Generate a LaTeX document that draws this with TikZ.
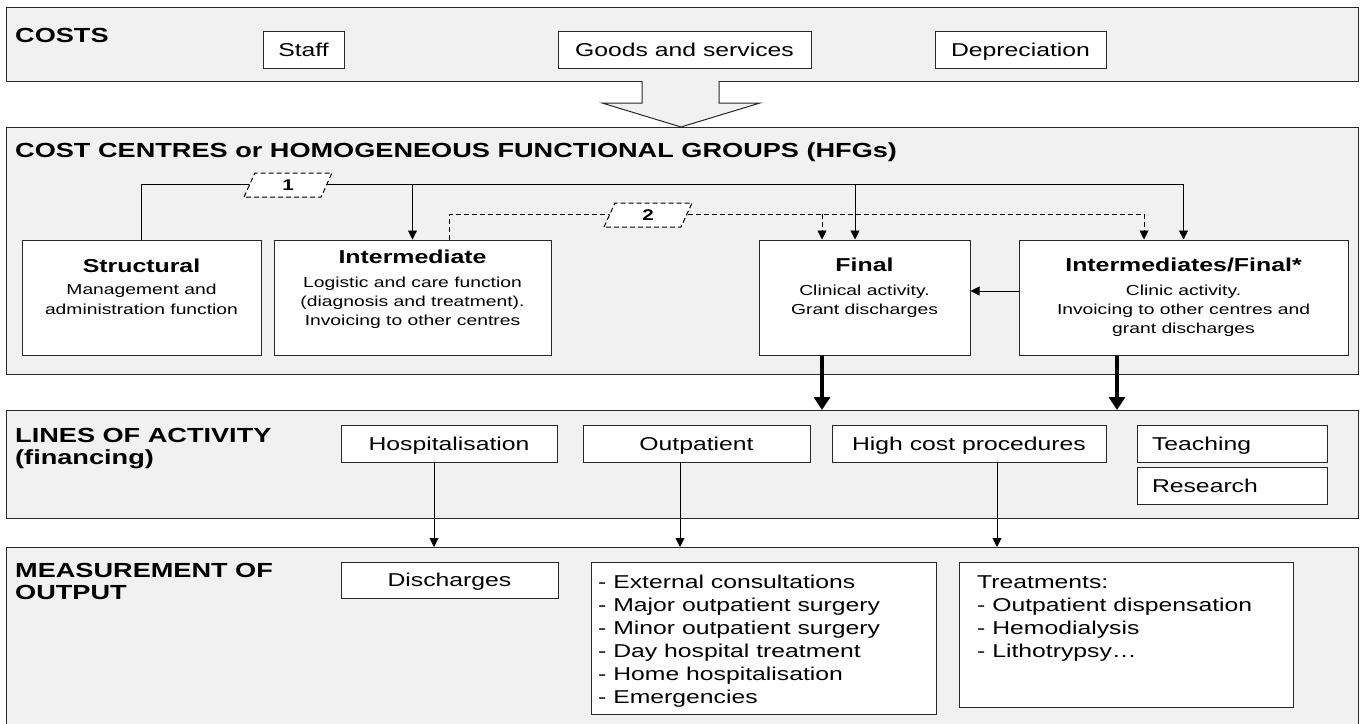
\documentclass[tikz,border=0pt]{standalone}
\usepackage{fontspec}
\setmainfont{Liberation Sans}[FakeStretch=1.33]
\usetikzlibrary{arrows.meta,shapes.geometric}
\definecolor{bandfill}{RGB}{241,241,241}
\definecolor{edgecol}{RGB}{40,40,40}
\newcommand{\fntBody}{\fontsize{14.5}{19}\selectfont}
\newcommand{\fntMid}{\fontsize{18.6}{23}\selectfont}
\newcommand{\fntHead}{\fontsize{20.4}{22}\selectfont\bfseries}
\newcommand{\fntBoxTitle}{\fontsize{18.7}{22}\selectfont\bfseries}
\begin{document}
\begin{tikzpicture}[x=1pt,y=-1pt,
  band/.style={draw=edgecol, line width=1pt, fill=bandfill, inner sep=0pt, anchor=north west, minimum width=1352pt},
  box/.style={draw=edgecol, line width=1pt, fill=white, inner sep=0pt},
  midtext/.style={font=\fntMid, text height=13.4pt, text depth=0pt},
  boxtxt/.style={font=\fntBody, align=center, inner sep=0pt, anchor=north},
  head/.style={font=\fntHead, inner sep=0pt, align=left},
  ln/.style={draw=black, line width=0.9pt},
  arr/.style={ln, -{Triangle[length=9pt,width=9pt]}},
  dsh/.style={dash pattern=on 5pt off 3pt},
  bigarr/.style={draw=black, line width=4.5pt, -{Triangle[length=13pt,width=16pt]}},
  tag/.style={trapezium, trapezium left angle=80, trapezium right angle=100, trapezium stretches=true,
    draw=black, dash pattern=on 5pt off 3pt, line width=1pt, fill=white,
    minimum width=88pt, minimum height=24pt, inner sep=0pt, font=\fontsize{15.5}{16}\selectfont\bfseries}
]
\useasboundingbox (0,0) rectangle (1365,723);
\clip (0,0) rectangle (1365,723);

% bands
\node[band, minimum height=74pt] (b1) at (6,7) {};
\node[band, minimum height=247pt] (b2) at (6,127) {};
\node[band, minimum height=108pt] (b3) at (6,410) {};
\node[band, minimum height=200pt] (b4) at (6,547) {};

% band headings
\node[head, anchor=base west] (h1) at (15,42.3) {COSTS};
\node[head, anchor=base west] (h2) at (15,157.3) {COST CENTRES or HOMOGENEOUS FUNCTIONAL GROUPS (HFGs)};
\node[head, anchor=north west] (h3) at (15,427.7) {LINES OF ACTIVITY\\(financing)};
\node[head, anchor=north west] (h4) at (15,562.7) {MEASUREMENT OF\\OUTPUT};

% costs
\node[box, midtext, minimum width=81pt, minimum height=37pt] (staff) at (303.5,49.5) {Staff};
\node[box, midtext, minimum width=253pt, minimum height=37pt] (goods) at (684.5,49.5) {Goods and services};
\node[box, midtext, minimum width=171pt, minimum height=37pt] (depr) at (1020.5,49.5) {Depreciation};

% block arrow
\fill[bandfill] (642,80.5) -- (642,103) -- (602,103) -- (681,127) -- (760,103) -- (719,103) -- (719,80.5) -- cycle;
\draw[edgecol, line width=1pt, line join=miter] (642,81) -- (642,103) -- (602,103) -- (681,127) -- (760,103) -- (719,103) -- (719,81);

% cost centres
\node[box, minimum width=239pt, minimum height=115pt] (struct) at (141.5,297.5) {};
\node[box, minimum width=277pt, minimum height=115pt] (inter) at (412.5,297.5) {};
\node[box, minimum width=211pt, minimum height=115pt] (final) at (864.5,297.5) {};
\node[box, minimum width=329pt, minimum height=115pt] (intfin) at (1183.5,297.5) {};

\node[boxtxt] (struct-t) at (141.5,259) {{\fntBoxTitle Structural}\\[3pt]Management and\\[1pt]administration function};
\node[boxtxt] (inter-t) at (412.5,250) {{\fntBoxTitle Intermediate}\\[5pt]Logistic and care function\\(diagnosis and treatment).\\Invoicing to other centres};
\node[boxtxt] (final-t) at (864.5,258) {{\fntBoxTitle Final}\\[5pt]Clinical activity.\\Grant discharges};
\node[boxtxt] (intfin-t) at (1183.5,258) {{\fntBoxTitle Intermediates/Final*}\\[5pt]Clinic activity.\\Invoicing to other centres and\\grant discharges};

% connector coordinates
\coordinate (l1y) at (0,184);
\coordinate (l2y) at (0,214);
\coordinate (xf1) at (855,0);
\coordinate (xf2) at (822,0);
\coordinate (xi2) at (449,0);
\coordinate (xif2) at (1144,0);
\coordinate (xif3) at (1117,0);

% line 1
\draw[arr] (struct.north) |- (intfin.north |- l1y) -- (intfin.north);
\draw[arr] (inter.north |- l1y) -- (inter.north);
\draw[arr] (xf1 |- l1y) -- (xf1 |- final.north);
% line 2 (dashed)
\draw[arr, dsh] (xi2 |- inter.north) |- (xif2 |- l2y) -- (xif2 |- intfin.north);
\draw[arr, dsh] (xf2 |- l2y) -- (xf2 |- final.north);
% tags
\node[tag] (tag1) at (288,185) {1};
\node[tag] (tag2) at (648,215) {2};
% intermediates/final -> final
\draw[arr] ([yshift=6.5pt]intfin.west) -- ([yshift=6.5pt]final.east);

% thick arrows
\draw[bigarr] (xf2 |- final.south) -- (xf2 |- b3.north);
\draw[bigarr] (xif3 |- intfin.south) -- (xif3 |- b3.north);

% lines of activity
\node[box, midtext, minimum width=216pt, minimum height=37pt] (hosp) at (449,443.5) {Hospitalisation};
\node[box, midtext, minimum width=227pt, minimum height=37pt] (outp) at (696.5,443.5) {Outpatient};
\node[box, midtext, minimum width=274pt, minimum height=37pt] (high) at (969,443.5) {High cost procedures};
\node[box, midtext, minimum height=37pt, text width=160pt, inner xsep=15pt, align=left] (teach) at (1232,443.5) {Teaching};
\node[box, midtext, minimum height=37pt, text width=160pt, inner xsep=15pt, align=left] (research) at (1232,485.5) {Research};

\coordinate (xh) at (434,0);
\coordinate (xo) at (680,0);
\coordinate (xc) at (997,0);
\draw[arr] (xh |- hosp.south) -- (xh |- b4.north);
\draw[arr] (xo |- outp.south) -- (xo |- b4.north);
\draw[arr] (xc |- high.south) -- (xc |- b4.north);

% measurement of output
\node[box, midtext, minimum width=217pt, minimum height=36pt] (disch) at (449.5,580) {Discharges};
\node[box, anchor=north west, minimum width=345pt, minimum height=152pt] (list) at (591,562) {};
\node[box, anchor=north west, minimum width=334pt, minimum height=145pt] (treat) at (959,562) {};
\node[font=\fntMid, align=left, inner sep=0pt, anchor=north west] (list-t) at (598,575.2) {- External consultations\\- Major outpatient surgery\\- Minor outpatient surgery\\- Day hospital treatment\\- Home hospitalisation\\- Emergencies};
\node[font=\fntMid, align=left, inner sep=0pt, anchor=north west] (treat-t) at (977,575.2) {Treatments:\\- Outpatient dispensation\\- Hemodialysis\\- Lithotrypsy…};
\end{tikzpicture}
\end{document}
